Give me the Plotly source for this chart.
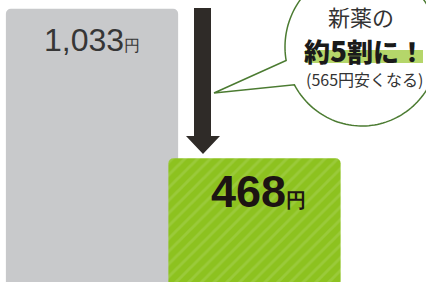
import numpy as np
import plotly.graph_objects as go

# ---- data ----
categories = ["現在の薬", "新薬"]
prices = [1033, 468]
unit = "円"
bubble_lines = ["新薬の", "約5割に！", "(565円安くなる)"]

W, H = 426, 282


def px(x):
    return x / W


def py(y):
    return 1 - y / H


bar_colors = ["#c8c9cb", "#8dc21f"]
patterns = [dict(shape=""),
            dict(shape="/", fgcolor="#a8d156", bgcolor="#8dc21f", size=9, solidity=0.32)]

fig = go.Figure()
for i, (c, p) in enumerate(zip(categories, prices)):
    fig.add_trace(go.Bar(
        x=[i], y=[p], name=c, width=1.06,
        marker=dict(color=bar_colors[i], line_width=0, pattern=patterns[i]),
        hoverinfo="skip",
    ))

# value labels
label_styles = [
    dict(family="Liberation Sans", size=32, color="#363636", weight=400, usize=16, yshift=-31, xshift=0),
    dict(family="Liberation Sans", size=45, color="#1c1412", weight=700, usize=20, yshift=-33, xshift=4),
]
for i, (p, st) in enumerate(zip(prices, label_styles)):
    fig.add_annotation(
        x=i, y=p, xref="x", yref="y", yanchor="middle", xanchor="center",
        yshift=st["yshift"], xshift=st["xshift"], showarrow=False,
        text=f"{p:,}<span style='font-size:{st['usize']}px'>{unit}</span>",
        font=dict(family=st["family"], size=st["size"], color=st["color"], weight=st["weight"]),
    )

shapes = []
# arrow
arrow_pts = [(194, 8), (211, 8), (211, 136), (220, 136), (203, 154), (186, 136), (194, 136)]
path = "M " + " L ".join(f"{px(x):.5f},{py(y):.5f}" for x, y in arrow_pts) + " Z"
shapes.append(dict(type="path", xref="paper", yref="paper", path=path,
                   fillcolor="#2f2b28", line=dict(width=0), layer="above"))

# speech bubble
cx, cy, rx, ry = 362, 47, 77, 79
a1, a2 = np.deg2rad(170.2), np.deg2rad(151.4 + 360)
th = np.linspace(a1, a2, 160)
pts = [(cx + rx * np.cos(t), cy + ry * np.sin(t)) for t in th]
pts.append((214, 93))
bpath = "M " + " L ".join(f"{px(x):.5f},{py(y):.5f}" for x, y in pts) + " Z"
shapes.append(dict(type="path", xref="paper", yref="paper", path=bpath,
                   fillcolor="white", line=dict(color="#4b7b31", width=1.5), layer="above"))

# highlight under line 2
shapes.append(dict(type="rect", xref="paper", yref="paper",
                   x0=px(305), x1=px(423), y0=py(63), y1=py(50),
                   fillcolor="#b5d66a", line=dict(width=0), layer="above"))

fig.update_layout(shapes=shapes)

cjk = "Noto Sans CJK JP"
fig.add_annotation(x=px(361), y=py(16), xref="paper", yref="paper", showarrow=False,
                   text=bubble_lines[0], font=dict(family=cjk, size=22, color="#333333"),
                   xanchor="center", yanchor="middle")
line2 = bubble_lines[1].replace("5", "<span style='font-size:28px'>5</span>")
fig.add_annotation(x=px(364), y=py(50), xref="paper", yref="paper", showarrow=False,
                   text=line2, font=dict(family=cjk, size=26, color="#1a1a1a", weight=900),
                   xanchor="center", yanchor="middle", borderpad=0)
fig.add_annotation(x=px(364), y=py(79), xref="paper", yref="paper", showarrow=False,
                   text=bubble_lines[2], font=dict(family=cjk, size=16, color="#333333"),
                   xanchor="center", yanchor="middle", borderpad=0)

fig.update_layout(
    width=W, height=H, margin=dict(l=0, r=0, t=0, b=0),
    barmode="overlay", barcornerradius=5, showlegend=False,
    paper_bgcolor="white", plot_bgcolor="white",
    xaxis=dict(range=[-92 / 162.5, (W - 92) / 162.5], visible=False, fixedrange=True),
    yaxis=dict(range=[0, 1066], visible=False, fixedrange=True),
)

fig.write_html("out.html", config={"displayModeBar": False, "staticPlot": True},
               post_script="document.body.style.margin='0';document.body.style.overflow='hidden';")
